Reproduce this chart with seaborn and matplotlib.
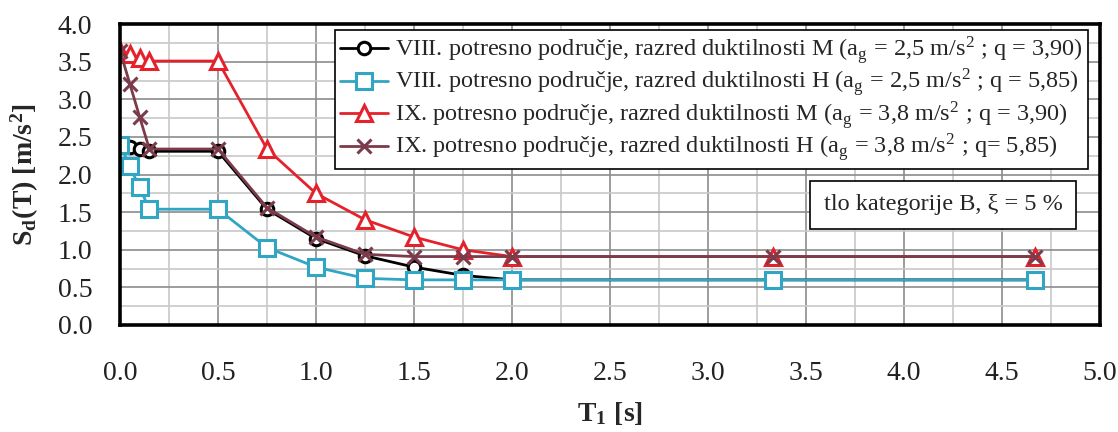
import matplotlib
matplotlib.use("Agg")
import matplotlib.pyplot as plt
import seaborn as sns
import pandas as pd
import numpy as np

# ---- data ----
T = [0.0, 0.05, 0.10, 0.15, 0.50, 0.75, 1.00, 1.25, 1.50, 1.75, 2.00, 3.33, 4.67]
viii_m = [2.40, 2.37, 2.34, 2.31, 2.31, 1.54, 1.15, 0.92, 0.77, 0.66, 0.60, 0.60, 0.60]
viii_h = [2.40, 2.11, 1.83, 1.54, 1.54, 1.03, 0.77, 0.62, 0.60, 0.60, 0.60, 0.60, 0.60]
ix_m = [3.65, 3.60, 3.55, 3.51, 3.51, 2.34, 1.75, 1.40, 1.17, 1.00, 0.91, 0.91, 0.91]
ix_h = [3.65, 3.21, 2.77, 2.34, 2.34, 1.56, 1.17, 0.94, 0.91, 0.91, 0.91, 0.91, 0.91]

labels = [
    r"VIII. potresno područje, razred duktilnosti M (a$_\mathregular{g}$ = 2,5 m/s$^\mathregular{2}$ ; q = 3,90)",
    r"VIII. potresno područje, razred duktilnosti H (a$_\mathregular{g}$ = 2,5 m/s$^\mathregular{2}$ ; q = 5,85)",
    r"IX. potresno područje, razred duktilnosti M (a$_\mathregular{g}$ = 3,8 m/s$^\mathregular{2}$ ; q = 3,90)",
    r"IX. potresno područje, razred duktilnosti H (a$_\mathregular{g}$ = 3,8 m/s$^\mathregular{2}$ ; q= 5,85)",
]
x_ticks = [0.0, 0.5, 1.0, 1.5, 2.0, 2.5, 3.0, 3.5, 4.0, 4.5, 5.0]
y_ticks = [0.0, 0.5, 1.0, 1.5, 2.0, 2.5, 3.0, 3.5, 4.0]

sns.set_style("white")
plt.rcParams['font.family'] = ['Liberation Serif', 'DejaVu Serif']
plt.rcParams['mathtext.fontset'] = 'stix'

fig = plt.figure(figsize=(11.18, 4.32), dpi=100)
ax = fig.add_axes([0.1073, 0.2477, 0.8766, 0.6963])

styles = [
    dict(color='black', marker='o', ms=9, mfc='white', mec='black'),
    dict(color='#31a6c4', marker='s', ms=11, mfc='white', mec='#31a6c4'),
    dict(color='#e5222c', marker='^', ms=11, mfc='white', mec='#e5222c'),
    dict(color='#7b3b4b', marker='x', ms=10, mfc='white', mec='#7b3b4b'),
]
series = [viii_m, viii_h, ix_m, ix_h]
for ys, lab, st in zip(series, labels, styles):
    df = pd.DataFrame({'T': T, 'Sd': ys})
    sns.lineplot(data=df, x='T', y='Sd', ax=ax, label=lab, color=st['color'],
                 marker=st['marker'], markersize=st['ms'], markerfacecolor=st['mfc'],
                 markeredgecolor=st['mec'], markeredgewidth=2.2, linewidth=2.0,
                 estimator=None, sort=False)

ax.set_xlim(0, 5)
ax.set_ylim(0, 4)
ax.set_xticks(x_ticks)
ax.set_yticks(y_ticks)
ax.set_xticklabels([f"{v:.1f}" for v in x_ticks])
ax.set_yticklabels([f"{v:.1f}" for v in y_ticks])
ax.set_xticks(np.arange(0.25, 5, 0.5), minor=True)
ax.set_yticks(np.arange(0.25, 4, 0.5), minor=True)
ax.grid(which='major', color='#8c8c8c', linewidth=1.2)
ax.grid(which='minor', color='#c8c8c8', linewidth=1.2)
ax.set_axisbelow(True)
ax.tick_params(axis='both', which='both', length=0, labelsize=20, colors='#222222')
ax.tick_params(axis='x', pad=26)
ax.tick_params(axis='y', pad=20)
for sp in ax.spines.values():
    sp.set_visible(True)
    sp.set_color('black')
    sp.set_linewidth(2.6)

ax.set_xlabel(r"T$_\mathregular{1}$ [s]", fontsize=20, fontweight='bold', labelpad=10)
ax.set_ylabel(r"S$_\mathregular{d}$(T) [m/s$^\mathregular{2}$]", fontsize=20, fontweight='bold', labelpad=12)

leg = ax.legend(loc='upper right', bbox_to_anchor=(0.988, 0.982), fontsize=17.5,
                frameon=True, fancybox=False, edgecolor='black', framealpha=1,
                handlelength=2.0, borderpad=0.2, labelspacing=0.02, handletextpad=0.3,
                borderaxespad=0)
leg.get_frame().set_linewidth(1.2)

ax.text(0.84, 0.40, "tlo kategorije B, ξ = 5 %", transform=ax.transAxes,
        fontsize=17.5, ha='center', va='center', zorder=6,
        bbox=dict(boxstyle='square,pad=0.55', fc='white', ec='black', lw=1.2))

fig.savefig("out.png", dpi=100)
